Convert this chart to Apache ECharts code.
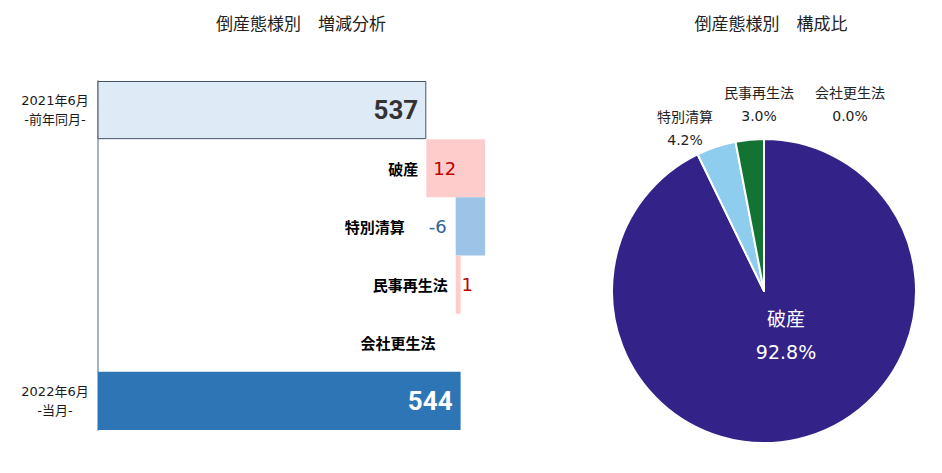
<!DOCTYPE html>
<html><head><meta charset="utf-8">
<script src="https://cdn.jsdelivr.net/npm/echarts@6/dist/echarts.min.js"></script>
<style>html,body{margin:0;padding:0;background:#fff}#c{width:942px;height:473px}</style>
</head><body><div id="c"></div>
<script>
// ---- data ----
const titles = ['倒産態様別　増減分析', '倒産態様別　構成比'];
const startLabel = '2021年6月\n-前年同月-';
const endLabel = '2022年6月\n-当月-';
const startTotal = 537;
const endTotal = 544;
const changeNames = ['破産', '特別清算', '民事再生法', '会社更生法'];
const changeValues = [12, -6, 1, 0];
const pieNames = ['破産', '特別清算', '民事再生法', '会社更生法'];
const pieValues = [92.8, 4.2, 3.0, 0.0];

// ---- styles ----
const axisMin = 470, axisMax = 560;
const CJK = '"Noto Sans CJK JP", sans-serif';
const NUM = '"DejaVu Sans", "Noto Sans CJK JP", sans-serif';
const BIG = '"Roboto", sans-serif';
const nameGap = [0, 8, 9, 8, 25, 0];
const pieColors = ['#332288', '#8ECDEE', '#137333', '#F2A33A'];
const pieLabelPos = [[786, 335], [685, 128], [759, 104], [850, 104]];

// ---- build ----
const categories = [startLabel, ...changeNames, endLabel];
const baseData = [{ value: '-' }];
const deltaData = [{ value: '-' }];
let cum = startTotal;
changeValues.forEach((d, i) => {
  const idx = i + 1;
  const base = d >= 0 ? cum : cum + d;
  const negText = d < 0 ? String(d) : '';
  baseData.push({
    value: base,
    label: {
      show: true, position: 'insideRight', distance: nameGap[idx],
      formatter: () => negText ? '{n|' + changeNames[i] + '}{g|}{neg|' + negText + '}' : '{n|' + changeNames[i] + '}'
    }
  });
  let lbl = { show: false };
  if (d > 0) {
    lbl = d >= 5
      ? { show: true, position: 'insideLeft', distance: 7 }
      : { show: true, position: 'right', distance: 1 };
  }
  deltaData.push({
    value: Math.abs(d),
    itemStyle: { color: d >= 0 ? '#FFCCCC' : '#9DC3E6' },
    label: lbl
  });
  cum += d;
});
baseData.push({ value: '-' });
deltaData.push({ value: '-' });

const totalData = categories.map(() => '-');
totalData[0] = { value: startTotal, itemStyle: { color: '#DEEBF7', borderColor: '#44546A', borderWidth: 1 }, label: { color: '#333' } };
totalData[categories.length - 1] = { value: endTotal, itemStyle: { color: '#2E75B6' }, label: { color: '#fff' } };

const chart = echarts.init(document.getElementById('c'), null, { renderer: 'svg' });
chart.setOption({
  animation: false,
  backgroundColor: '#fff',
  title: [
    { text: titles[0], left: 301, top: 22, padding: 0, textAlign: 'center', textVerticalAlign: 'middle',
      textStyle: { fontFamily: CJK, fontSize: 17, fontWeight: 'normal', color: '#222' } },
    { text: titles[1], left: 771, top: 22, padding: 0, textAlign: 'center', textVerticalAlign: 'middle',
      textStyle: { fontFamily: CJK, fontSize: 17, fontWeight: 'normal', color: '#222' } }
  ],
  grid: { left: 98, top: 81, width: 441, height: 349 },
  xAxis: { type: 'value', min: axisMin, max: axisMax, show: false },
  yAxis: {
    type: 'category', inverse: true, data: categories,
    axisTick: { show: false },
    axisLine: { lineStyle: { color: '#A5B3C6', width: 2 } },
    axisLabel: {
      formatter: (v, i) => (i === 0 || i === categories.length - 1) ? v : '',
      align: 'center', margin: 43, fontSize: 13, lineHeight: 19, color: '#1a1a1a', fontFamily: NUM
    }
  },
  series: [
    {
      type: 'bar', stack: 'w', barCategoryGap: '0%', data: baseData,
      itemStyle: { color: 'rgba(0,0,0,0)' },
      label: {
        rich: {
          n: { fontFamily: CJK, fontSize: 15, fontWeight: 'bold', color: '#000' },
          g: { width: 24 },
          neg: { fontFamily: NUM, fontSize: 18, color: '#2F5F98' }
        }
      },
      emphasis: { disabled: true }, silent: true
    },
    {
      type: 'bar', stack: 'w', barCategoryGap: '0%', data: deltaData,
      label: { fontFamily: NUM, fontSize: 18, color: '#C00000', formatter: (p) => String(p.value) },
      emphasis: { disabled: true }
    },
    {
      type: 'bar', stack: 'w', barCategoryGap: '0%', data: totalData,
      label: { show: true, position: 'insideRight', distance: 8, fontFamily: BIG, fontSize: 26, fontWeight: 'bold' },
      emphasis: { disabled: true }
    },
    {
      type: 'pie', center: [764, 291], radius: 152, startAngle: 90, clockwise: true,
      avoidLabelOverlap: false,
      itemStyle: { borderColor: '#fff', borderWidth: 2 },
      labelLine: { show: false },
      label: {
        show: true, position: 'outside', fontFamily: NUM, fontSize: 14, lineHeight: 23, color: '#222',
        formatter: (p) => p.name + '\n' + p.value.toFixed(1) + '%'
      },
      labelLayout: (params) => {
        const p = pieLabelPos[params.dataIndex];
        return { x: p[0], y: p[1], align: 'center', verticalAlign: 'middle' };
      },
      emphasis: { disabled: true },
      data: pieNames.map((n, i) => {
        const item = { name: n, value: pieValues[i], itemStyle: { color: pieColors[i] } };
        if (i === 0) item.label = { position: 'inside', color: '#fff', fontSize: 19, lineHeight: 33 };
        return item;
      })
    }
  ]
});
</script>
</body></html>
